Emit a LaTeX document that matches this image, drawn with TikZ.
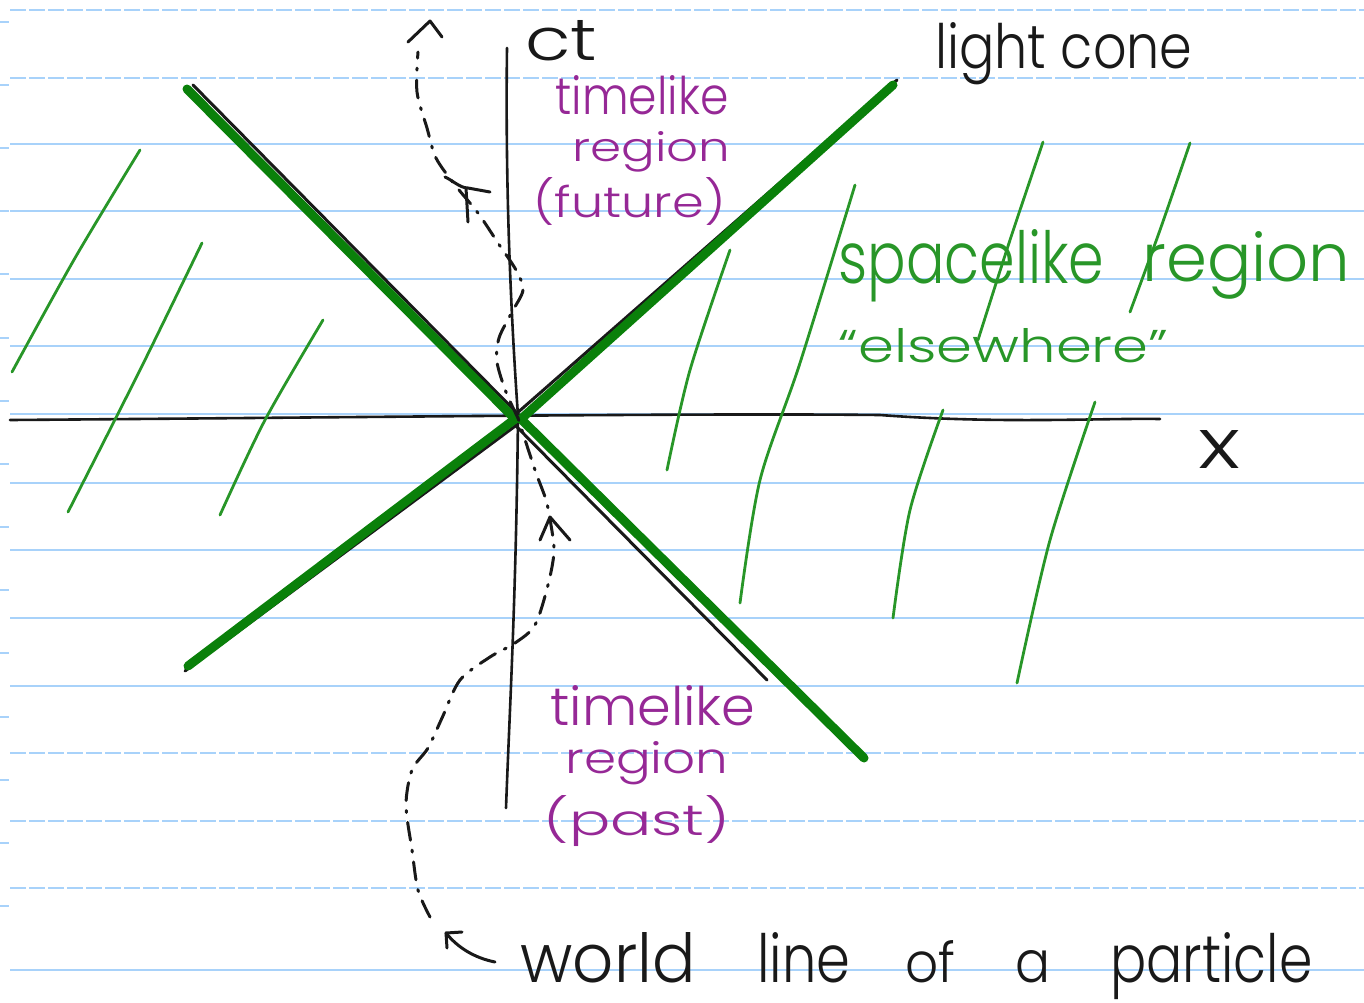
\documentclass[tikz,border=0pt]{standalone}
\usepackage{fontspec}
\IfFontExistsTF{Poppins Light}{\newfontfamily\hand{Poppins Light}}{\newfontfamily\hand{Poppins}}
\definecolor{rulec}{RGB}{168,210,250}
\definecolor{lcgreen}{RGB}{10,128,10}
\definecolor{hgreen}{RGB}{40,150,40}
\definecolor{purp}{RGB}{150,40,150}
\definecolor{ink}{RGB}{25,25,25}
\newcommand\fitwh[3]{\resizebox{#1}{#2}{\hand #3}}
\begin{document}
\begin{tikzpicture}[x=0.5pt,y=-0.5pt,
  rulesolid/.style={rulec, line width=1pt},
  ruledash/.style={rulec, line width=1pt, dash pattern=on 8pt off 1.5pt},
  tick/.style={rulec, line width=1pt},
  axisline/.style={ink, line width=1.3pt, line cap=round},
  conegreen/.style={lcgreen, line width=4.5pt, line cap=round},
  coneblack/.style={ink, line width=1.5pt, line cap=round},
  hatch/.style={hgreen, line width=1.4pt, line cap=round},
  wline/.style={ink, line width=1.5pt, line cap=round, dash pattern=on 9pt off 5pt on 1pt off 5pt},
  whead/.style={ink, line width=1.5pt, line cap=round, line join=round},
  txt/.style={inner sep=0pt, anchor=base west}]
\useasboundingbox (0,0) rectangle (1364,1002);
\fill[white] (0,0) rectangle (1364,1002);
% ruled paper
\foreach \yy in {10,78}{\draw[ruledash] (10,\yy) -- (1364,\yy);}
\foreach \yy in {144,211,279,346,414,483,550,618,686}{\draw[rulesolid] (10,\yy) -- (1364,\yy);}
\foreach \yy in {753,821,888}{\draw[ruledash] (10,\yy) -- (1364,\yy);}
\draw[rulesolid] (10,970) -- (1364,970);
\foreach \yy in {22,85,148,211,274,338,401,464,527,590,653,717,780,843,906}{\draw[tick] (0,\yy) -- (9,\yy);}
% axes
\draw[axisline] (10,420) .. controls (400,417) and (700,413) .. (880,415) .. controls (1000,424) and (1100,418) .. (1160,419);
\draw[axisline] (507,48) .. controls (505,200) and (512,330) .. (518,416) .. controls (516,600) and (510,700) .. (506,808);
% hatching left
\draw[hatch] plot[smooth] coordinates {(140,150) (75,258) (12,372)};
\draw[hatch] plot[smooth] coordinates {(202,243) (140,370) (68,512)};
\draw[hatch] plot[smooth] coordinates {(323,320) (265,420) (220,515)};
% hatching right
\draw[hatch] plot[smooth] coordinates {(730,250) (690,370) (667,470)};
\draw[hatch] plot[smooth] coordinates {(855,185) (800,363) (760,480) (740,603)};
\draw[hatch] plot[smooth] coordinates {(1043,142) (1010,240) (978,340)};
\draw[hatch] plot[smooth] coordinates {(1190,143) (1160,230) (1130,312)};
\draw[hatch] plot[smooth] coordinates {(943,410) (910,510) (893,618)};
\draw[hatch] plot[smooth] coordinates {(1095,402) (1050,540) (1017,683)};
% light cone
\draw[coneblack] (193,85) -- (520,416);
\draw[coneblack] (516,414) -- (897,80);
\draw[coneblack] (518,424) -- (185,671);
\draw[coneblack] (514,424) -- (767,680);
\draw[conegreen] (187,89) -- (514,418);
\draw[conegreen] (521,419) -- (893,85);
\draw[conegreen] (515,419) -- (188,666);
\draw[conegreen] (521,419) -- (864,758);
% world line
\draw[wline] plot[smooth] coordinates {(430,917) (418,890) (412,850) (406,805) (412,770) (428,748) (442,718) (460,680) (490,657) (515,643) (535,625) (548,585) (554,552) (551,525) (546,500) (535,470) (518,418)};
\draw[wline] plot[smooth] coordinates {(518,418) (506,392) (497,362) (499,338) (512,312) (523,290) (516,270) (498,243) (478,213) (455,185) (436,158) (427,128) (417,92) (418,52)};
\draw[whead] (408,42) -- (430,21) -- (442,37);
\draw[whead] (540,540) -- (550,517) -- (570,540);
\draw[whead] (445,177) .. controls (452,180) and (460,188) .. (468,188) -- (490,192);
\draw[whead] (466,188) -- (468,222);
\draw[whead] (495,962) .. controls (475,958) and (458,948) .. (446,933);
\draw[whead] (446,933) -- (447,948);
\draw[whead] (446,933) -- (462,932);
% texts
\node[txt, ink] (ct) at (525,60) {\fitwh{36pt}{20pt}{ct}};
\node[txt, ink] (lc) at (935,68) {\fitwh{128.5pt}{23pt}{light cone}};
\node[txt, ink] (xl) at (1198,468) {\fitwh{21pt}{19pt}{x}};
\node[txt, purp] (tf1) at (555,114) {\fitwh{86.5pt}{19.5pt}{timelike}};
\node[txt, purp] (tf2) at (572,161) {\fitwh{79pt}{15pt}{region}};
\node[txt, purp] (tf3) at (533,217) {\fitwh{96pt}{20pt}{(future)}};
\node[txt, hgreen] (sp1) at (838,283) {\fitwh{133pt}{27pt}{spacelike}};
\node[txt, hgreen] (sp2) at (1142,281) {\fitwh{104pt}{25pt}{region}};
\node[txt, hgreen] (sp3) at (838,362) {\fitwh{165pt}{17pt}{“elsewhere”}};
\node[txt, purp] (tp1) at (550,725) {\fitwh{102.5pt}{20pt}{timelike}};
\node[txt, purp] (tp2) at (565,773) {\fitwh{81.5pt}{16pt}{region}};
\node[txt, purp] (tp3) at (543,835) {\fitwh{93.5pt}{20pt}{(past)}};
\node[txt, ink] (w1) at (520,982) {\fitwh{87.5pt}{25pt}{world}};
\node[txt, ink] (w2) at (757,982) {\fitwh{46.5pt}{25pt}{line}};
\node[txt, ink] (w3) at (905,982) {\fitwh{25pt}{21pt}{of}};
\node[txt, ink] (w4) at (1015,982) {\fitwh{17.5pt}{16pt}{a}};
\node[txt, ink] (w5) at (1110,982) {\fitwh{101pt}{25pt}{particle}};
\end{tikzpicture}
\end{document}
